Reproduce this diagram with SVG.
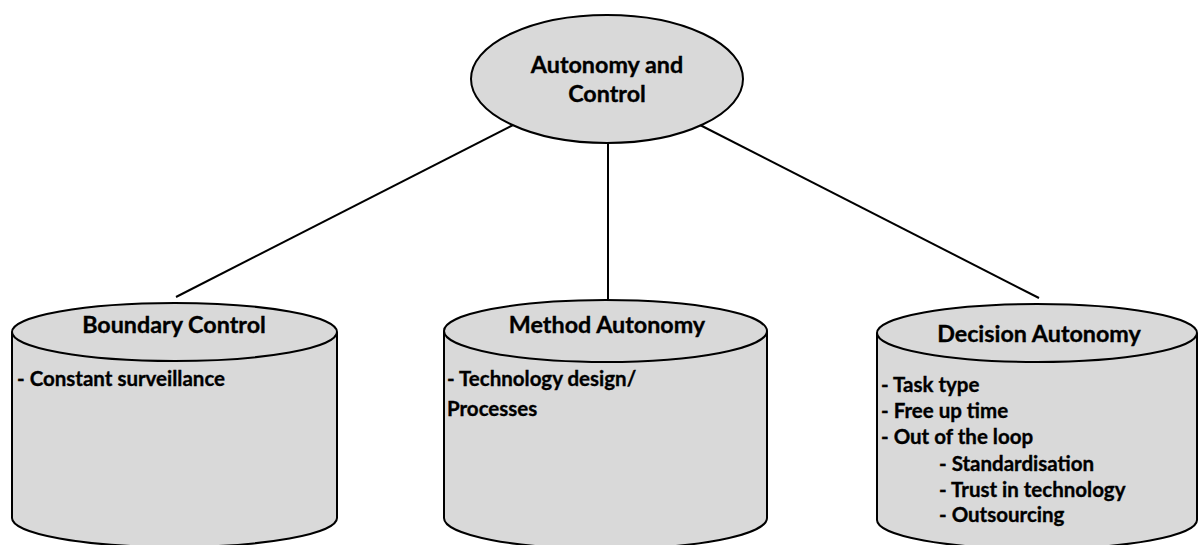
<svg xmlns="http://www.w3.org/2000/svg" width="1200" height="545" viewBox="0 0 1200 545">
<style>
.shape{fill:#d9d9d9;stroke:#000;stroke-width:2}
.edge{stroke:#000;stroke-width:2;fill:none}
text{font-family:Lato,"Open Sans","Liberation Sans",sans-serif;font-weight:bold;font-size:20.5px;fill:#000;stroke:#000;stroke-width:0.35}
.t{font-size:23.3px;text-anchor:middle}
</style>
<g id="connectors">
<line class="edge" x1="513" y1="125" x2="176" y2="297"/>
<line class="edge" x1="608" y1="143" x2="608" y2="299"/>
<line class="edge" x1="700" y1="125" x2="1039" y2="298"/>
</g>
<g id="root">
<ellipse class="shape" cx="607" cy="79" rx="136" ry="64"/>
<text class="t" x="607" y="73">Autonomy and</text>
<text class="t" x="607" y="102">Control</text>
</g>
<g id="boundary">
<path class="shape" d="M12,332 L12,518 A162.5,29 0 0 0 337,518 L337,332 A162.5,29 0 0 0 12,332 Z"/>
<path class="edge" d="M12,332 A162.5,29 0 0 0 337,332"/>
<text class="t" x="174" y="333">Boundary Control</text>
<text x="17" y="386">- Constant surveillance</text>
</g>
<g id="method">
<path class="shape" d="M444,331 L444,518 A161.5,31 0 0 0 767,518 L767,331 A161.5,31 0 0 0 444,331 Z"/>
<path class="edge" d="M444,331 A161.5,31 0 0 0 767,331"/>
<text class="t" x="607" y="333">Method Autonomy</text>
<text x="447" y="386">- Technology design/</text>
<text x="447" y="416">Processes</text>
</g>
<g id="decision">
<path class="shape" d="M877,333 L877,520 A160,29 0 0 0 1197,520 L1197,333 A160,29 0 0 0 877,333 Z"/>
<path class="edge" d="M877,333 A160,29 0 0 0 1197,333"/>
<text class="t" x="1039" y="342">Decision Autonomy</text>
<text x="881" y="392">- Task type</text>
<text x="881" y="418">- Free up time</text>
<text x="881" y="444">- Out of the loop</text>
<text x="939" y="471">- Standardisation</text>
<text x="939" y="497">- Trust in technology</text>
<text x="939" y="522">- Outsourcing</text>
</g>
</svg>
